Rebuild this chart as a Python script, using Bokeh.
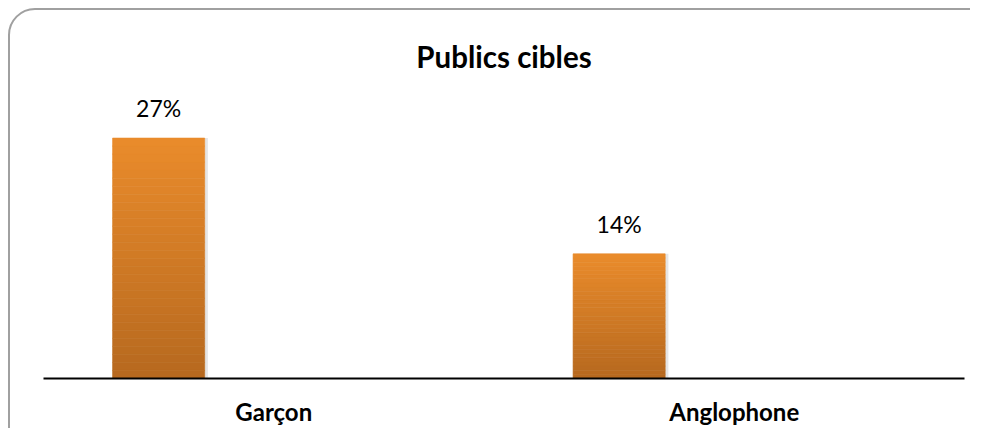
from bokeh.plotting import figure
from bokeh.models import Range1d, FactorRange
from bokeh.transform import dodge
from bokeh.core.properties import value
from bokeh.embed import file_html
from bokeh.resources import INLINE

categories = ["Garçon", "Anglophone"]
values = [27, 14]
labels = ["27%", "14%"]
title_text = "Publics cibles"

W, H = 970, 428

p = figure(width=W, height=H, output_backend="svg", toolbar_location=None,
           x_range=FactorRange(factors=categories, range_padding=0),
           y_range=Range1d(0, 41.1),
           min_border_left=43, min_border_right=6, min_border_top=12, min_border_bottom=49)
p.outline_line_color = None
p.grid.visible = False
p.yaxis.visible = False
p.background_fill_alpha = 0
p.border_fill_alpha = 0

# rounded chart border as a CSS background of the figure element
border_svg = ("data:image/svg+xml;utf8,<svg xmlns='http://www.w3.org/2000/svg' "
              "width='970' height='428'><rect x='9' y='9' width='1000' height='470' rx='26' "
              "ry='26' fill='white' stroke='%23a0a0a0' stroke-width='2'/></svg>")
p.styles = {"background-image": f'url("{border_svg}")',
            "background-repeat": "no-repeat",
            "background-color": "white"}

# gradient bars built from slices of each value
n = 30
top_c = (0xE9, 0x8B, 0x2B)
bot_c = (0xB7, 0x69, 0x1F)
sx, sb, st, sc = [], [], [], []
for cat, v in zip(categories, values):
    for k in range(n):
        f = k / (n - 1)
        c = tuple(int(round(bot_c[i] + (top_c[i] - bot_c[i]) * f)) for i in range(3))
        sx.append(cat)
        sb.append(v * k / n)
        st.append(v * (k + 1) / n)
        sc.append("#%02x%02x%02x" % c)

src_main = dict(cat=categories, val=values, lab=labels)

# soft shadow
p.vbar(x=dodge("cat", -0.243, range=p.x_range), top="val", bottom=-0.25, width=0.2,
       source=src_main, fill_color="#000000", fill_alpha=0.10, line_color=None)
p.vbar(x=dodge("x", -0.25, range=p.x_range), bottom="b", top="t", width=0.2,
       source=dict(x=sx, b=sb, t=st, c=sc), fill_color="c", line_color="c", line_width=0.6)

p.text(x=dodge("cat", -0.25, range=p.x_range), y="val", text="lab", source=src_main,
       text_align="center", text_baseline="alphabetic", y_offset=-30,
       text_font=value("Lato"), text_font_size="23px", text_color="#000000")

p.text(x=dodge("c", 0.5, range=p.x_range), y="y", text="t",
       source=dict(c=[categories[0]], y=[(379 - 56) / 8.926], t=[title_text]),
       text_align="center", text_baseline="alphabetic",
       text_font=value("Lato"), text_font_size="29.5px", text_font_style="bold", text_color="#000000")

ax = p.xaxis[0]
ax.axis_line_color = "#000000"
ax.axis_line_width = 2
ax.major_tick_line_color = None
ax.minor_tick_line_color = None
ax.major_label_standoff = 12
ax.major_label_text_font = "Lato"
ax.major_label_text_font_size = "24px"
ax.major_label_text_font_style = "bold"
ax.major_label_text_color = "#000000"

open("out.html", "w").write(file_html(p, INLINE))
